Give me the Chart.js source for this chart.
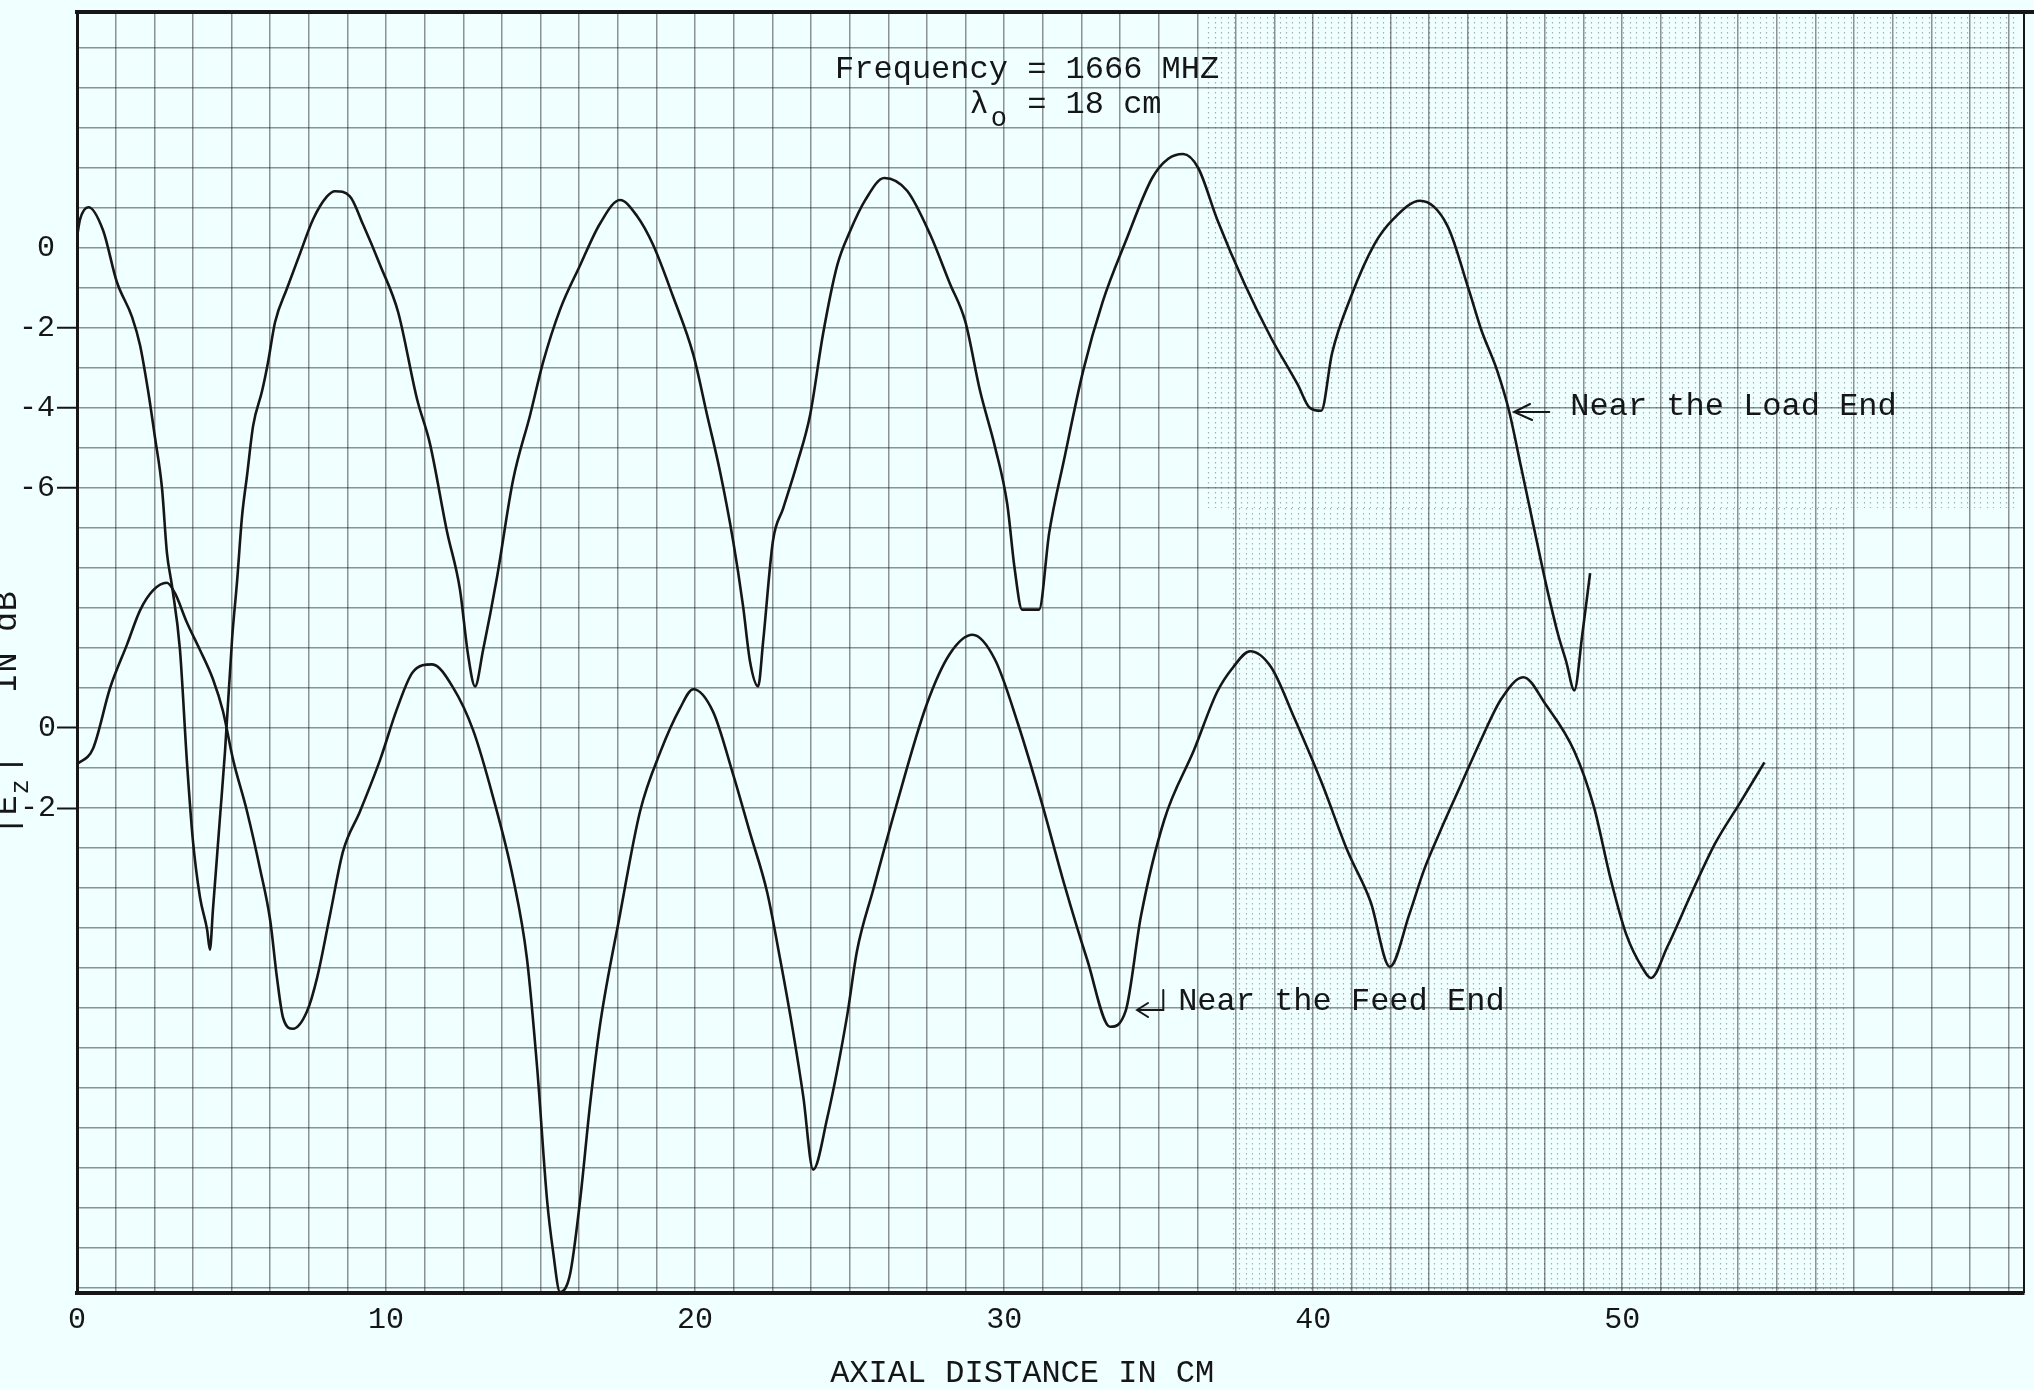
<!DOCTYPE html>
<html>
<head>
<meta charset="utf-8">
<title>Axial field distribution</title>
<script src="https://cdn.jsdelivr.net/npm/chart.js@4.4.1/dist/chart.umd.min.js"></script>
<style>
  html, body { margin: 0; padding: 0; background: #f0ffff; }
  #wrap { width: 2034px; height: 1390px; position: relative; }
  canvas { display: block; }
</style>
</head>
<body>
<div id="wrap"><canvas id="chart" width="2034" height="1390"></canvas></div>
<script>
// Measured |Ez| along the axis, near the load end (upper trace, own dB scale)
const loadX = [0.0, 0.10, 0.37, 0.84, 1.29, 1.78, 2.04, 2.30, 2.52, 2.75, 2.91, 3.07, 3.33, 3.56, 3.75, 3.98,
  4.21, 4.30, 4.40, 4.63, 4.79, 5.02, 5.18, 5.34, 5.50, 5.70, 5.99, 6.18, 6.41, 6.80, 7.22, 7.64,
  8.09, 8.35, 8.83, 9.26, 9.81, 10.39, 11.00, 11.42, 11.97, 12.39, 12.65, 12.88, 13.14, 13.59, 14.11, 14.66,
  15.08, 15.63, 16.28, 16.93, 17.57, 18.12, 18.64, 19.29, 19.94, 20.39, 20.81, 21.23, 21.55, 21.78, 22.04, 22.20,
  22.52, 22.85, 23.30, 23.72, 24.14, 24.60, 25.02, 25.50, 26.12, 26.86, 27.61, 28.24, 28.74, 29.22, 29.71, 30.10,
  30.34, 30.58, 31.13, 31.46, 31.94, 32.56, 33.19, 33.93, 34.79, 35.31, 35.79, 36.28, 36.89, 37.77, 38.64, 39.51,
  39.87, 40.26, 40.61, 41.23, 41.97, 42.59, 43.46, 44.34, 45.05, 45.44, 45.95, 46.34, 46.73, 47.12, 47.53, 47.92,
  48.19, 48.45, 48.71, 48.96];
const loadDb = [0.28, 0.72, 1.02, 0.45, -0.85, -1.72, -2.43, -3.57, -4.72, -6.0, -7.62, -8.43, -10.03, -12.88, -14.81, -16.23,
  -17.04, -17.54, -16.53, -14.2, -12.58, -9.75, -8.33, -6.71, -5.7, -4.44, -3.57, -2.86, -1.85, -1.0, -0.13, 0.72,
  1.29, 1.42, 1.29, 0.58, -0.43, -1.6, -3.77, -4.89, -7.08, -8.53, -10.15, -10.96, -10.05, -8.23, -5.8, -4.18,
  -2.86, -1.54, -0.43, 0.62, 1.2, 0.8, 0.08, -1.22, -2.66, -4.18, -5.6, -7.32, -8.94, -10.35, -10.96, -9.85,
  -7.32, -6.51, -5.39, -4.18, -2.15, -0.43, 0.43, 1.19, 1.75, 1.43, 0.33, -0.88, -1.83, -3.57, -4.99, -6.4,
  -8.02, -9.04, -9.04, -7.11, -5.29, -3.06, -1.34, 0.16, 1.75, 2.23, 2.35, 2.0, 0.72, -0.88, -2.25, -3.43,
  -3.98, -4.07, -2.63, -1.2, 0.08, 0.72, 1.18, 0.56, -1.08, -2.05, -3.06, -4.08, -5.49, -6.91, -8.39, -9.65,
  -10.35, -11.06, -9.65, -8.13];

// Measured |Ez| along the axis, near the feed end (lower trace, own dB scale)
const feedX = [0.0, 0.52, 1.07, 1.62, 2.04, 2.46, 2.91, 3.17, 3.56, 3.98, 4.40, 4.72, 5.05, 5.50, 5.92, 6.25,
  6.47, 6.67, 6.99, 7.44, 7.77, 8.19, 8.61, 9.16, 9.81, 10.36, 10.87, 11.49, 12.17, 12.82, 13.46, 14.11,
  14.56, 14.89, 15.21, 15.40, 15.63, 15.95, 16.28, 16.60, 16.93, 17.57, 18.22, 18.87, 19.51, 19.94, 20.58, 21.23,
  21.78, 22.33, 22.75, 23.17, 23.50, 23.82, 24.27, 24.92, 25.24, 25.76, 26.50, 27.49, 28.24, 28.98, 29.71, 30.45,
  31.20, 31.94, 32.69, 33.43, 33.93, 34.43, 35.18, 36.15, 36.89, 37.41, 37.96, 38.64, 39.39, 40.26, 41.12, 41.86,
  42.48, 43.11, 43.59, 44.11, 44.78, 45.44, 46.08, 46.80, 47.53, 48.45, 49.09, 49.61, 50.13, 50.67, 50.93, 51.46,
  52.23, 53.01, 53.82, 54.60];
const feedDb = [-0.91, -0.51, 1.0, 2.09, 2.94, 3.44, 3.63, 3.37, 2.63, 1.95, 1.22, 0.43, -0.79, -2.08, -3.51, -4.8,
  -6.24, -7.25, -7.52, -7.09, -6.24, -4.66, -3.08, -2.08, -0.79, 0.49, 1.4, 1.59, 1.01, -0.06, -1.72, -3.75,
  -5.77, -8.5, -11.8, -13.06, -14.1, -13.67, -11.8, -9.42, -7.39, -4.66, -2.08, -0.61, 0.49, 0.97, 0.41, -1.16,
  -2.63, -4.1, -5.77, -7.59, -9.21, -11.04, -9.77, -7.19, -5.57, -4.05, -1.97, 0.58, 1.85, 2.33, 1.7, 0.1,
  -1.82, -3.89, -5.8, -7.47, -7.08, -4.69, -2.3, -0.54, 0.9, 1.52, 1.92, 1.52, 0.25, -1.34, -3.09, -4.35,
  -5.97, -4.66, -3.54, -2.58, -1.42, -0.28, 0.72, 1.27, 0.58, -0.58, -1.99, -3.73, -5.16, -6.02, -6.25, -5.47,
  -4.15, -2.88, -1.86, -0.86];

// Tick labels
const xTickLabels = [0, 10, 20, 30, 40, 50];
const loadTickLabels = [0, -2, -4, -6];
const feedTickLabels = [0, -2];

// Texts
const titleLine1 = 'Frequency = 1666 MHZ';
const titleLambda = 'λ';
const titleLambdaSub = 'o';
const titleLine2Rest = '= 18 cm';
const loadLabel = 'Near the Load End';
const feedLabel = 'Near the Feed End';
const xTitle = 'AXIAL DISTANCE IN CM';
const yTitleMain = '|E';
const yTitleSub = 'z';
const yTitleRest = '|   IN dB';

const MONO = '"Liberation Mono", "Courier New", monospace';
const INK = '#161616';

// Axis ranges: both traces use 1 dB per paper square; the feed scale sits 12 squares lower.
const X_MIN = 0, X_MAX = 63;
const LOAD_MIN = -26.125, LOAD_MAX = 5.9;
const FEED_OFFSET = 12;

function range(a, b, step) {
  const out = [];
  for (let v = a; v <= b + 1e-9; v += step) out.push(Math.round(v * 1000) / 1000);
  return out;
}

// keep axis boxes at their exact size, without extra label padding
function fixWidth(w) {
  return s => { s.width = w; s.paddingTop = 0; s.paddingBottom = 0; };
}

const paperTexture = {
  id: 'paperTexture',
  beforeDatasetsDraw(chart) {
    const { ctx } = chart;
    const xs = chart.scales.x, yl = chart.scales.yLoad;
    const blocks = [
      { x0: 36.6, x1: 62.8, y0: 5.9, y1: -6.5 },
      { x0: 37.4, x1: 57.2, y0: -6.5, y1: -26.1 }
    ];
    ctx.save();
    ctx.strokeStyle = 'rgba(20,20,20,0.34)';
    ctx.lineWidth = 1.2;
    ctx.setLineDash([1.6, 3.4]);
    blocks.forEach(b => {
      const top = yl.getPixelForValue(b.y0), bot = yl.getPixelForValue(b.y1);
      for (let v = b.x0; v <= b.x1; v += 0.21) {
        const px = Math.round(xs.getPixelForValue(v)) + 0.5;
        ctx.beginPath();
        ctx.moveTo(px, top);
        ctx.lineTo(px, bot);
        ctx.stroke();
      }
    });
    ctx.restore();
  }
};

const frameAndText = {
  id: 'frameAndText',
  afterDraw(chart) {
    const { ctx, chartArea } = chart;
    const xs = chart.scales.x, yl = chart.scales.yLoad, yf = chart.scales.yFeed;
    ctx.save();

    // frame: heavy top rule, light right edge
    ctx.strokeStyle = INK;
    ctx.lineWidth = 4;
    ctx.beginPath();
    ctx.moveTo(chartArea.left - 2, chartArea.top);
    ctx.lineTo(chart.width, chartArea.top);
    ctx.stroke();
    ctx.lineWidth = 2;
    ctx.beginPath();
    ctx.moveTo(chartArea.right, chartArea.top);
    ctx.lineTo(chartArea.right, chartArea.bottom);
    ctx.stroke();

    ctx.fillStyle = INK;

    // feed-end scale labels
    ctx.font = '30px ' + MONO;
    ctx.textAlign = 'right';
    ctx.textBaseline = 'middle';
    feedTickLabels.forEach(v => {
      ctx.fillText(String(v), chartArea.left - 21, yf.getPixelForValue(v));
    });

    ctx.textAlign = 'left';
    ctx.textBaseline = 'alphabetic';
    ctx.font = '32px ' + MONO;
    const adv = ctx.measureText('M').width;

    // title block
    const tx = xs.getPixelForValue(24.53);
    ctx.fillText(titleLine1, tx, yl.getPixelForValue(4.25));
    const y2 = yl.getPixelForValue(3.375);
    ctx.fillText(titleLambda, tx + 7 * adv, y2);
    ctx.fillText(titleLine2Rest, tx + 10 * adv, y2);
    ctx.font = '27px ' + MONO;
    ctx.fillText(titleLambdaSub, tx + 8 * adv + 2, y2 + 13);

    // trace labels
    ctx.font = '32px ' + MONO;
    ctx.fillText(loadLabel, xs.getPixelForValue(48.32), yl.getPixelForValue(-4.175));
    ctx.fillText(feedLabel, xs.getPixelForValue(35.63), yf.getPixelForValue(-7.05));

    // arrows
    ctx.lineWidth = 2;
    ctx.lineCap = 'round';
    const aTip = { x: xs.getPixelForValue(46.5), y: yl.getPixelForValue(-4.1) };
    const aTail = { x: xs.getPixelForValue(47.64), y: aTip.y };
    ctx.beginPath();
    ctx.moveTo(aTail.x, aTail.y);
    ctx.lineTo(aTip.x, aTip.y);
    ctx.moveTo(aTip.x + 16, aTip.y - 8);
    ctx.lineTo(aTip.x, aTip.y);
    ctx.lineTo(aTip.x + 18, aTip.y + 8);
    ctx.stroke();

    const fTip = { x: xs.getPixelForValue(34.3), y: yf.getPixelForValue(-7.05) };
    const fCorner = { x: xs.getPixelForValue(35.15), y: fTip.y };
    ctx.beginPath();
    ctx.moveTo(fCorner.x, yf.getPixelForValue(-6.55));
    ctx.lineTo(fCorner.x, fCorner.y);
    ctx.lineTo(fTip.x, fTip.y);
    ctx.moveTo(fTip.x + 11, fTip.y - 7);
    ctx.lineTo(fTip.x, fTip.y);
    ctx.lineTo(fTip.x + 11, fTip.y + 7);
    ctx.stroke();

    // axis titles
    ctx.font = '32px ' + MONO;
    ctx.fillText(xTitle, xs.getPixelForValue(24.37), chartArea.bottom + 89);

    ctx.translate(chartArea.left - 61, yl.getPixelForValue(-14.7));
    ctx.rotate(-Math.PI / 2);
    ctx.font = '34px ' + MONO;
    ctx.fillText(yTitleMain, 0, 0);
    const wMain = ctx.measureText(yTitleMain).width;
    ctx.font = '25px ' + MONO;
    ctx.fillText(yTitleSub, wMain + 1, 12);
    const wCell = ctx.measureText('M').width * 34 / 25;
    ctx.font = '34px ' + MONO;
    ctx.fillText(yTitleRest, wMain + wCell, 0);

    ctx.restore();
  }
};

// graph-paper rulings: broken dotted lines
const dotted = [1.5, 7, 1.5, 7, 1.5, 17];
const gridInk = 'rgba(15,15,15,0.45)';

new Chart(document.getElementById('chart'), {
  type: 'line',
  data: {
    datasets: [
      {
        label: loadLabel,
        data: loadX.map((x, i) => ({ x, y: loadDb[i] })),
        yAxisID: 'yLoad',
        borderColor: INK,
        borderWidth: 2.6,
        pointRadius: 0,
        fill: false,
        cubicInterpolationMode: 'monotone'
      },
      {
        label: feedLabel,
        data: feedX.map((x, i) => ({ x, y: feedDb[i] })),
        yAxisID: 'yFeed',
        borderColor: INK,
        borderWidth: 2.6,
        pointRadius: 0,
        fill: false,
        cubicInterpolationMode: 'monotone'
      }
    ]
  },
  options: {
    responsive: false,
    animation: false,
    devicePixelRatio: 1,
    layout: { padding: { left: 0, top: 12, right: 10, bottom: 0 } },
    plugins: { legend: { display: false }, tooltip: { enabled: false }, title: { display: false } },
    scales: {
      x: {
        type: 'linear',
        position: 'bottom',
        min: X_MIN,
        max: X_MAX,
        afterFit: s => { s.height = 97; s.paddingLeft = 0; s.paddingRight = 0; },
        afterBuildTicks: s => { s.ticks = range(0, 62.5, 1.25).map(v => ({ value: v })); },
        grid: { color: gridInk, lineWidth: 1.5, borderDash: dotted, drawTicks: false },
        border: { display: true, color: INK, width: 4 },
        ticks: {
          autoSkip: false,
          maxRotation: 0,
          padding: 9,
          color: INK,
          font: { family: MONO, size: 30 },
          callback: v => (xTickLabels.includes(v) ? String(v) : '')
        }
      },
      yLoad: {
        type: 'linear',
        position: 'left',
        weight: 1,
        min: LOAD_MIN,
        max: LOAD_MAX,
        afterFit: fixWidth(77),
        afterBuildTicks: s => { s.ticks = range(-26, 5, 1).map(v => ({ value: v })); },
        grid: {
          color: gridInk,
          lineWidth: 1.5,
          borderDash: dotted,
          borderDashOffset: 4,
          tickLength: 20,
          tickWidth: 2,
          tickBorderDash: [],
          tickColor: c => (c.tick && c.tick.value !== 0 && loadTickLabels.includes(c.tick.value)) ? INK : 'rgba(0,0,0,0)'
        },
        border: { display: true, color: INK, width: 3 },
        ticks: {
          autoSkip: false,
          padding: 2,
          color: INK,
          font: { family: MONO, size: 30 },
          callback: v => (loadTickLabels.includes(v) ? String(v) : '')
        }
      },
      yFeed: {
        type: 'linear',
        position: 'left',
        weight: 0,
        min: LOAD_MIN + FEED_OFFSET,
        max: LOAD_MAX + FEED_OFFSET,
        afterFit: fixWidth(0),
        afterBuildTicks: s => { s.ticks = feedTickLabels.map(v => ({ value: v })); },
        grid: { drawOnChartArea: false, tickLength: 20, tickWidth: 2, tickColor: INK },
        border: { display: false },
        ticks: { display: false }
      }
    }
  },
  plugins: [paperTexture, frameAndText]
});
</script>
</body>
</html>
